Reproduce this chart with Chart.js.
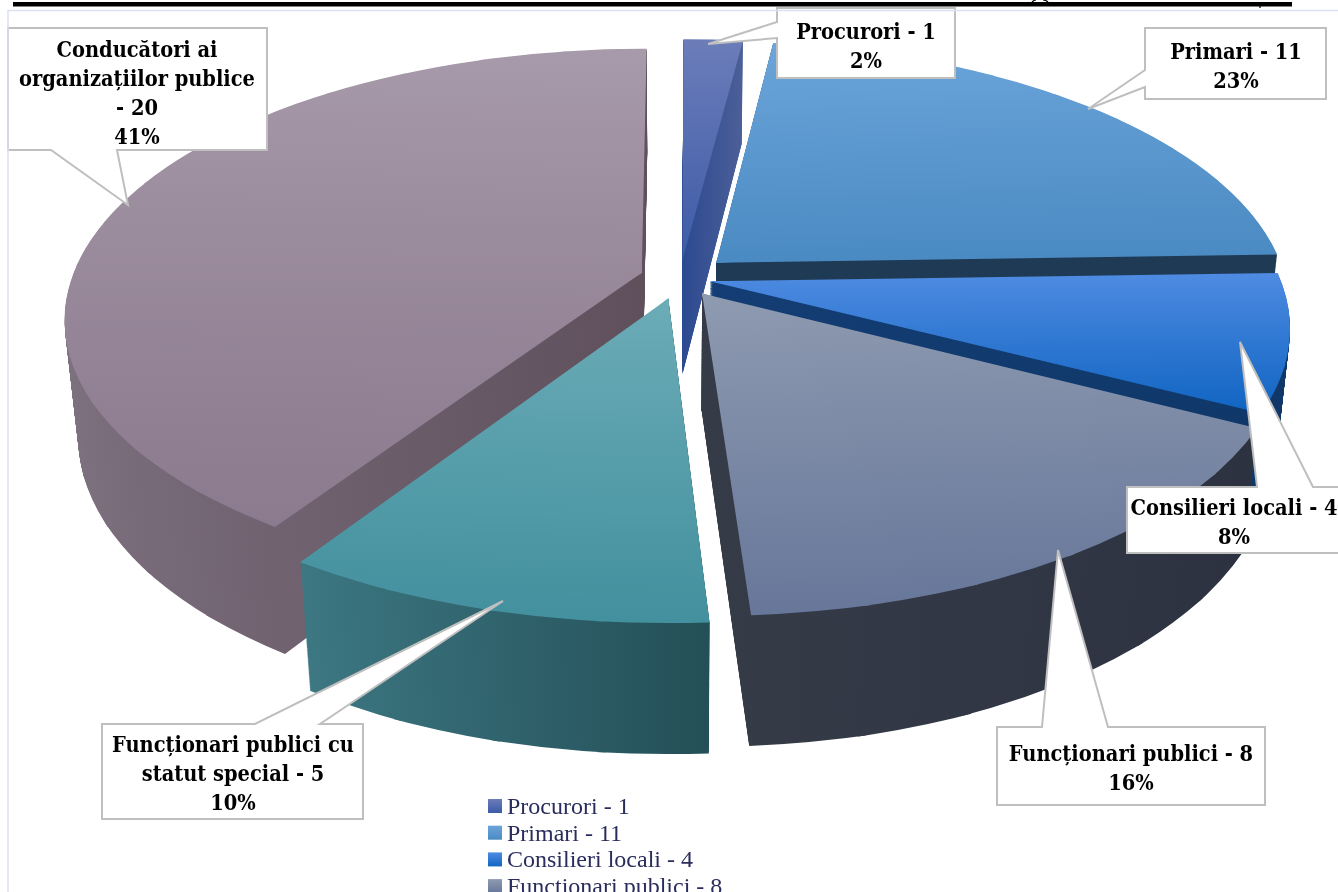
<!DOCTYPE html>
<html>
<head>
<meta charset="utf-8">
<style>
  html, body { margin: 0; padding: 0; background: #fff; overflow: hidden; }
  #wrap { position: relative; width: 1338px; height: 892px; overflow: hidden; }
  canvas, svg { position: absolute; left: 0; top: 0; }
  .lbl { font-family: 'DejaVu Serif', serif; font-weight: bold; font-stretch: condensed; font-size: 21.6px; fill: #000; text-anchor: middle; }
  .leg { font: 24px 'Liberation Serif', serif; fill: #2a2d5c; }
</style>
<script src="https://cdn.jsdelivr.net/npm/chart.js@4"></script>
</head>
<body>
<div id="wrap">
  <canvas id="pie" width="1338" height="892"></canvas>
  <svg id="over" width="1338" height="892" xmlns="http://www.w3.org/2000/svg"></svg>
</div>
<script>
const categories = ['Procurori', 'Primari', 'Consilieri locali', 'Funcționari publici', 'Funcționari publici cu statut special', 'Conducători ai organizațiilor publice'];
const values     = [1, 11, 4, 8, 5, 20];
const percents   = [2, 23, 8, 16, 10, 41];

const explode  = [30, 37, 23, 30, 34, 30];   // px, Chart.js arc offset
const topLight = ['#6b7cb9', '#6ba5da', '#4f8be2', '#8e9ab0', '#6bacb7', '#a79aaa'];
const topDark  = ['#3d5ba7', '#4a8ac2', '#1065c2', '#67779a', '#43909e', '#8c7a8e'];
const sideLeft  = ['#2c4a90', '#1f3a55', '#133d74', '#363b48', '#3c7782', '#7e7180'];
const sideRight = ['#4c5f98', '#1f3a55', '#0f3768', '#2c3240', '#244f57', '#5f505c'];

// how the flat pie is seen: camera fitted to the reference
const view = { cx: 680, cy: 278, fx: 570, fy: 263, p: 0.1667, g: 118, r: 0.022 };
const WEDGE_STEP = Math.PI / 18;
const DEPTH_STEPS = 140;

function project(u, v, h) {
  const q = 1 - view.p * v + view.r * h;
  return { x: view.cx + view.fx * u / q, y: view.cy + (view.fy * v + view.g * h) / q };
}

// affine that sends triangle a,b,c onto triangle A,B,C
function affine(a, b, c, A, B, C) {
  const det = (b.x - a.x) * (c.y - a.y) - (c.x - a.x) * (b.y - a.y);
  const m11 = ((B.x - A.x) * (c.y - a.y) - (C.x - A.x) * (b.y - a.y)) / det;
  const m21 = ((C.x - A.x) * (b.x - a.x) - (B.x - A.x) * (c.x - a.x)) / det;
  const m12 = ((B.y - A.y) * (c.y - a.y) - (C.y - A.y) * (b.y - a.y)) / det;
  const m22 = ((C.y - A.y) * (b.x - a.x) - (B.y - A.y) * (c.x - a.x)) / det;
  return [m11, m12, m21, m22, A.x - m11 * a.x - m21 * a.y, A.y - m12 * a.x - m22 * a.y];
}

function drawSlice(ctx, arc, fill, h) {
  const o = arc.options;
  const circ = arc.endAngle - arc.startAngle;
  const mid = (arc.startAngle + arc.endAngle) / 2;
  const d = (o.offset || 0) / 4;
  const fix = 1 - Math.sin(Math.min(Math.PI, circ));
  const Rs = arc.outerRadius + d * fix;
  const sx = arc.x + Math.cos(mid) * d, sy = arc.y + Math.sin(mid) * d;
  const off = (o.offset || 0) / arc.outerRadius;
  const ou = Math.cos(mid) * off, ov = Math.sin(mid) * off;
  const n = Math.max(1, Math.ceil(circ / WEDGE_STEP));

  arc.options = Object.assign(Object.create(o), { backgroundColor: fill });
  for (let i = 0; i < n; i++) {
    const a0 = arc.startAngle + circ * i / n, a1 = arc.startAngle + circ * (i + 1) / n;
    const aff = affine(
      { x: sx, y: sy },
      { x: sx + Rs * Math.cos(a0), y: sy + Rs * Math.sin(a0) },
      { x: sx + Rs * Math.cos(a1), y: sy + Rs * Math.sin(a1) },
      project(ou, ov, h),
      project(ou + Math.cos(a0), ov + Math.sin(a0), h),
      project(ou + Math.cos(a1), ov + Math.sin(a1), h)
    );
    const am = (a0 + a1) / 2;
    ctx.save();
    ctx.transform(aff[0], aff[1], aff[2], aff[3], aff[4], aff[5]);
    // clip to this sub wedge, a bit wider so neighbours overlap and leave no seam
    const pad = 0.006, big = Rs * 1.04;
    ctx.beginPath();
    ctx.moveTo(sx - Math.cos(am) * 14, sy - Math.sin(am) * 14);
    ctx.lineTo(sx + big * Math.cos(a0 - pad), sy + big * Math.sin(a0 - pad));
    ctx.lineTo(sx + big * Math.cos(a1 + pad), sy + big * Math.sin(a1 + pad));
    ctx.closePath();
    ctx.clip();
    arc.draw(ctx);
    ctx.restore();
  }
  arc.options = o;
}

function sliceBounds(arc) {
  const pts = [[arc.x, arc.y]];
  for (let k = 0; k <= 24; k++) {
    const a = arc.startAngle + (arc.endAngle - arc.startAngle) * k / 24;
    pts.push([arc.x + arc.outerRadius * Math.cos(a), arc.y + arc.outerRadius * Math.sin(a)]);
  }
  const xs = pts.map(p => p[0]), ys = pts.map(p => p[1]);
  return { left: Math.min(...xs), right: Math.max(...xs), top: Math.min(...ys), bottom: Math.max(...ys) };
}

const solidPie = {
  id: 'solidPie',
  beforeDatasetsDraw(chart) {
    const ctx = chart.ctx;
    const arcs = chart.getDatasetMeta(0).data;
    const order = arcs.map((a, i) => i).sort((i, j) =>
      Math.sin((arcs[i].startAngle + arcs[i].endAngle) / 2) - Math.sin((arcs[j].startAngle + arcs[j].endAngle) / 2));

    order.forEach(i => {
      const arc = arcs[i];
      const b = sliceBounds(arc);
      const side = ctx.createLinearGradient(b.left, 0, b.right, 0);
      side.addColorStop(0, sideLeft[i]);
      side.addColorStop(1, sideRight[i]);
      for (let s = DEPTH_STEPS; s > 0; s--) drawSlice(ctx, arc, side, s / DEPTH_STEPS);

      const top = ctx.createLinearGradient(0, b.top, 0, b.bottom);
      top.addColorStop(0, topLight[i]);
      top.addColorStop(1, topDark[i]);
      drawSlice(ctx, arc, top, 0);
    });
    return false;
  }
};

new Chart(document.getElementById('pie'), {
  type: 'pie',
  data: {
    labels: categories,
    datasets: [{ data: values, backgroundColor: topDark, borderWidth: 0, offset: explode }],
  },
  options: {
    responsive: false,
    animation: false,
    events: [],
    plugins: { legend: { display: false }, tooltip: { enabled: false } },
  },
  plugins: [solidPie],
});

// callouts + legend, on top of the canvas
const calloutLines = [
  ['Procurori - ' + values[0], percents[0] + '%'],
  ['Primari - ' + values[1], percents[1] + '%'],
  ['Consilieri locali - ' + values[2], percents[2] + '%'],
  ['Funcționari publici - ' + values[3], percents[3] + '%'],
  ['Funcționari publici cu', 'statut special - ' + values[4], percents[4] + '%'],
  ['Conducători ai', 'organizațiilor publice', '- ' + values[5], percents[5] + '%'],
];
const calloutShapes = [
  { pts: '777,8 955,8 955,78 777,78 777,38 708,44 777,22', tx: 866, ty: 39 },
  { pts: '1145,28 1326,28 1326,99 1145,99 1145,87 1088,109 1145,70', tx: 1236, ty: 59 },
  { pts: '1127,487 1257,487 1240,342 1313,487 1345,487 1345,553 1127,553', tx: 1234, ty: 515 },
  { pts: '997,727 1042,727 1058,550 1108,727 1265,727 1265,805 997,805', tx: 1131, ty: 761 },
  { pts: '102,724 255,724 503,601 320,724 363,724 363,819 102,819', tx: 233, ty: 752 },
  { pts: '8,28 267,28 267,150 117,150 128,205 51,150 8,150', tx: 137, ty: 57 },
];
const legendTop = 806, legendRow = 26.7;

const svg = document.getElementById('over');
const NS = 'http://www.w3.org/2000/svg';
function add(tag, attrs, text, parent) {
  const el = document.createElementNS(NS, tag);
  Object.keys(attrs).forEach(k => el.setAttribute(k, attrs[k]));
  if (text !== undefined) el.textContent = text;
  (parent || svg).appendChild(el);
  return el;
}

calloutShapes.forEach((c, i) => {
  add('polygon', { points: c.pts, fill: '#fff', stroke: '#bfbfbf', 'stroke-width': 2 });
  calloutLines[i].forEach((line, k) => {
    add('text', { x: c.tx, y: c.ty + k * 29, class: 'lbl' }, line);
  });
});

// page frame, rule and the cut-off title tails above it
add('path', { d: 'M8 892V10.5H1338', fill: 'none', stroke: '#dbe1f1', 'stroke-width': 1.5 });
add('rect', { x: 13, y: 2, width: 1279, height: 4.5, fill: '#000' });
add('path', { d: 'M1032 2Q1034 0 1036 0M1043 0Q1046 0 1048 2M1260 5V8', fill: 'none', stroke: '#000', 'stroke-width': 1.2 });

const defs = add('defs', {});
categories.slice(0, 4).forEach((name, i) => {
  const grad = add('linearGradient', { id: 'sw' + i, x1: 0, y1: 0, x2: 0, y2: 1 }, undefined, defs);
  add('stop', { offset: 0, 'stop-color': topLight[i] }, undefined, grad);
  add('stop', { offset: 1, 'stop-color': topDark[i] }, undefined, grad);
  const y = legendTop + i * legendRow;
  add('rect', { x: 488, y: y - 7, width: 14, height: 14, fill: 'url(#sw' + i + ')' });
  add('text', { x: 507, y: y + 8, class: 'leg' }, name + ' - ' + values[i]);
});
</script>
</body>
</html>
